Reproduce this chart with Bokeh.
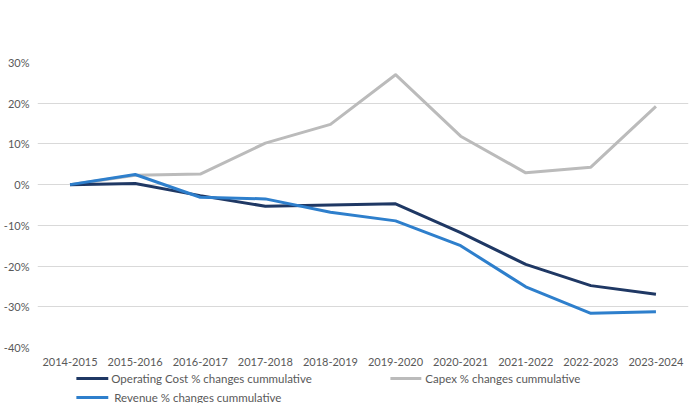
from bokeh.plotting import figure
from bokeh.layouts import column
from bokeh.models import FactorRange, FixedTicker, PrintfTickFormatter, ColumnDataSource
from bokeh.core.properties import value
from bokeh.embed import file_html
from bokeh.resources import INLINE

years = ["2014-2015", "2015-2016", "2016-2017", "2017-2018", "2018-2019",
         "2019-2020", "2020-2021", "2021-2022", "2022-2023", "2023-2024"]
operating_cost = [0.0, 0.3, -2.7, -5.3, -5.0, -4.7, -11.8, -19.6, -24.8, -26.9]
capex = [0.0, 2.3, 2.6, 10.2, 14.8, 27.0, 11.9, 2.9, 4.3, 19.2]
revenue = [0.0, 2.5, -3.1, -3.5, -6.8, -8.9, -15.0, -25.1, -31.6, -31.2]
y_ticks = [-40, -30, -20, -10, 0, 10, 20, 30]
labels = ["Operating Cost % changes cummulative", "Capex % changes cummulative",
          "Revenue % changes cummulative"]

C_OP, C_CAP, C_REV = "#1F3864", "#BBBBBB", "#2E7FCC"
FONT = "Lato"
TXT = "#595959"
W = 690
LB = 35
LH = 32

src = ColumnDataSource(dict(x=years, op=operating_cost, cap=capex, rev=revenue))

p = figure(width=W, height=371, x_range=FactorRange(*years, range_padding=0),
           y_range=(-40, 30), output_backend="svg", toolbar_location=None,
           min_border_left=LB, min_border_right=2, min_border_top=62, min_border_bottom=24)
p.outline_line_color = None
p.xgrid.grid_line_color = None
p.ygrid.grid_line_color = "#D9D9D9"
p.ygrid.grid_line_width = 1

p.yaxis.ticker = FixedTicker(ticks=y_ticks)
p.yaxis.formatter = PrintfTickFormatter(format="%d%%")
for ax in (p.xaxis[0], p.yaxis[0]):
    ax.axis_line_color = None
    ax.major_tick_line_color = None
    ax.minor_tick_line_color = None
    ax.major_tick_out = 0
    ax.major_tick_in = 0
    ax.minor_tick_out = 0
    ax.minor_tick_in = 0
    ax.major_label_text_font = FONT
    ax.major_label_text_font_size = "11px"
    ax.major_label_text_color = TXT
p.yaxis.major_label_standoff = 8
p.xaxis.major_label_standoff = 10

p.line("x", "cap", source=src, line_color=C_CAP, line_width=3, line_join="round")
p.line("x", "op", source=src, line_color=C_OP, line_width=3, line_join="round")
p.line("x", "rev", source=src, line_color=C_REV, line_width=3, line_join="round")

# legend strip (pixel coordinates)
q = figure(width=W, height=LH, x_range=(LB, W - 2), y_range=(0, LH), output_backend="svg",
           toolbar_location=None, min_border_left=LB, min_border_right=2,
           min_border_top=0, min_border_bottom=0,
           x_axis_location=None, y_axis_location=None)
q.grid.grid_line_color = None
q.outline_line_color = None

leg = ColumnDataSource(dict(
    x0=[74, 389, 74], x1=[106, 420, 106], y=[25, 25, 6],
    tx=[109, 424, 112], label=labels, color=[C_OP, C_CAP, C_REV]))
q.segment(x0="x0", y0="y", x1="x1", y1="y", color="color", line_width=3, source=leg)
q.text(x="tx", y="y", text="label", source=leg, text_font=value(FONT),
       text_font_size="11.5px", text_color=TXT, text_baseline="middle", text_align="left")

open("out.html", "w").write(file_html(column(p, q, spacing=0), INLINE))
